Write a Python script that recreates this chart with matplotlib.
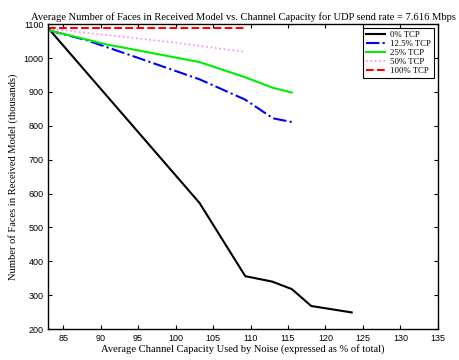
import numpy as np
import matplotlib.pyplot as plt

# noise level (% of channel capacity) and faces received (thousands)
x_0 = [83.0, 103.2, 109.3, 112.9, 115.5, 118.1, 123.5]
y_0 = [1088, 572, 356, 340, 318, 268, 249]

x_125 = [83.0, 88.2, 95.3, 103.2, 109.3, 113.0, 115.5]
y_125 = [1082, 1052, 998, 937, 877, 822, 811]

x_25 = [83.0, 90.8, 103.2, 109.3, 113.0, 115.5]
y_25 = [1082, 1040, 988, 943, 912, 898]

x_50 = [83.0, 99.7, 109.3]
y_50 = [1087, 1046, 1018]

x_100 = [83.0, 109.3]
y_100 = [1088, 1088]

fig = plt.figure(figsize=(4.59, 3.6), dpi=100)
ax = fig.add_axes([0.105, 0.086, 0.849, 0.847])

ax.plot(x_0, y_0, color='black', lw=1.5, label='0% TCP')
ax.plot(x_125, y_125, color='blue', lw=1.5, ls='-.', label='12.5% TCP')
ax.plot(x_25, y_25, color='#00ee00', lw=1.5, label='25% TCP')
ax.plot(x_50, y_50, color='#ff88ff', lw=1.2, ls=':', label='50% TCP')
ax.plot(x_100, y_100, color='red', lw=1.5, ls='--', label='100% TCP')

ax.set_xlim(83, 135)
ax.set_ylim(200, 1100)
ax.set_xticks(np.arange(85, 136, 5))
ax.set_yticks(np.arange(200, 1101, 100))
ax.tick_params(direction='in', top=True, right=True, labelsize=6.5, length=3)
for lbl in ax.get_xticklabels() + ax.get_yticklabels():
    lbl.set_family('Liberation Sans')
for s in ax.spines.values():
    s.set_linewidth(1.0)

ax.set_title('Average Number of Faces in Received Model vs. Channel Capacity for UDP send rate = 7.616 Mbps',
             family='Liberation Serif', fontsize=7.6, pad=3)
ax.set_xlabel('Average Channel Capacity Used by Noise (expressed as % of total)',
              family='Liberation Serif', fontsize=7.6, labelpad=1)
ax.set_ylabel('Number of Faces in Received Model (thousands)',
              family='Liberation Serif', fontsize=7.6, labelpad=4)

leg = ax.legend(loc='upper right', prop={'family': 'Liberation Serif', 'size': 6.3},
                fancybox=False, framealpha=1, edgecolor='black',
                handlelength=2.2, borderpad=0.3, labelspacing=0.1, handletextpad=0.6)
leg.get_frame().set_linewidth(0.8)

fig.savefig('out.png', dpi=100)
